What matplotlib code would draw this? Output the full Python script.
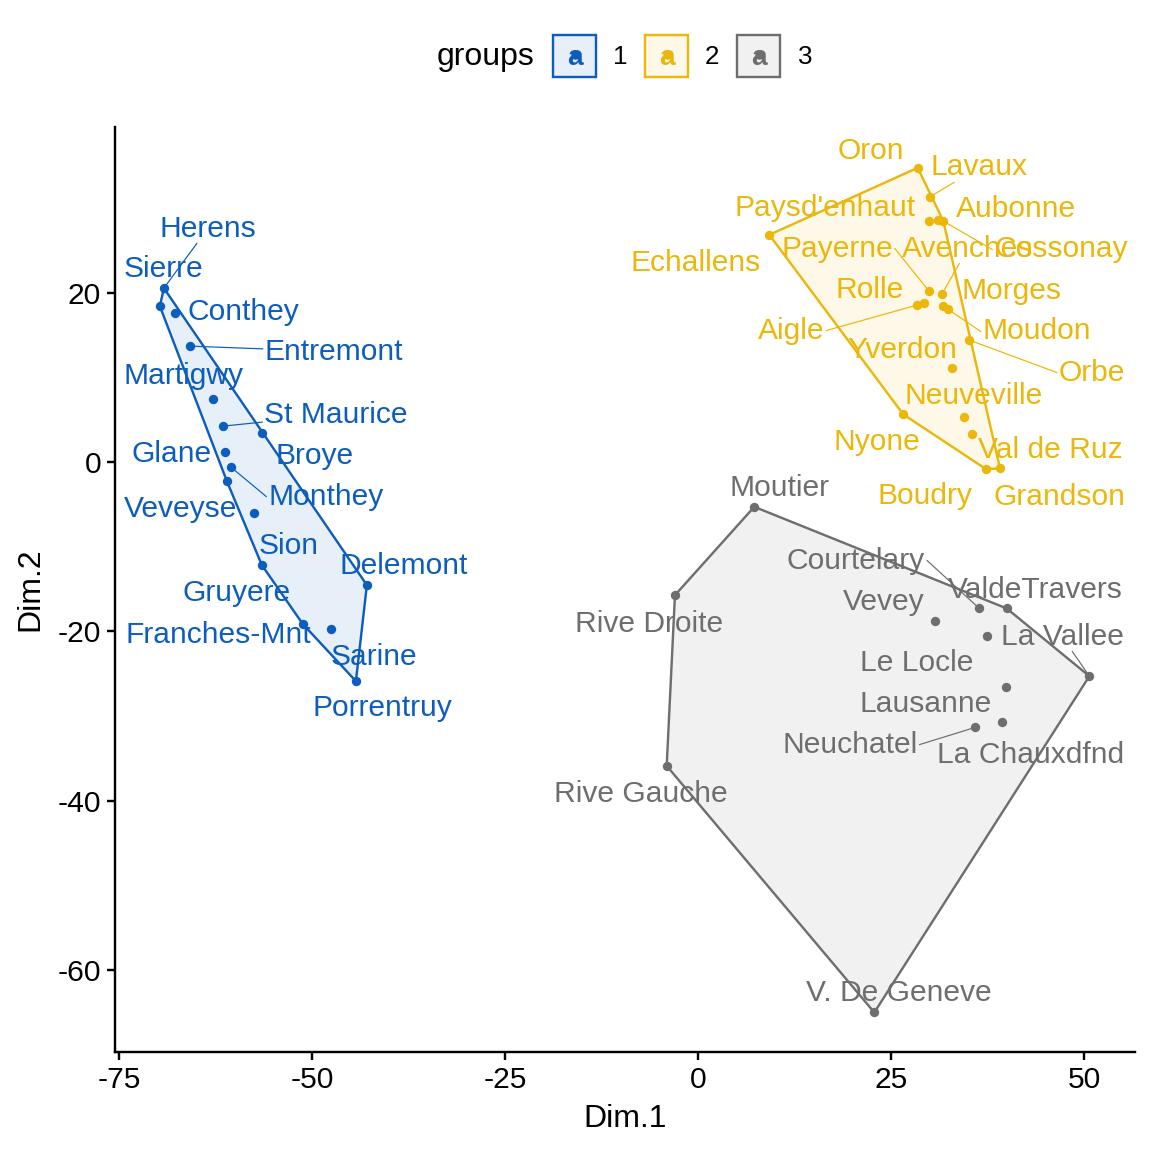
import matplotlib
matplotlib.use("Agg")
import matplotlib.pyplot as plt
from matplotlib.patches import Polygon, Rectangle
from matplotlib.colors import to_rgb
import numpy as np

plt.rcParams["font.family"] = ["Liberation Sans", "DejaVu Sans"]
plt.rcParams["axes.unicode_minus"] = False

# MDS coordinates of the swiss provinces
g1_names = ["Herens", "Sierre", "Conthey", "Entremont", "Martigwy", "St Maurice",
            "Broye", "Glane", "Monthey", "Veveyse", "Sion", "Gruyere", "Delemont",
            "Franches-Mnt", "Sarine", "Porrentruy"]
g1_x = [-69.17, -69.69, -67.75, -65.80, -62.82, -61.53, -56.48, -61.27, -60.49,
        -61.01, -57.51, -56.48, -42.88, -51.17, -47.54, -44.30]
g1_y = [20.56, 18.43, 17.61, 13.71, 7.44, 4.25, 3.43, 1.18, -0.59, -2.25, -6.03,
        -12.17, -14.53, -19.14, -19.73, -25.88]
g1_lx = [-63.47, -69.17, -58.81, -47.15, -66.58, -46.89, -49.61, -68.13, -48.19,
         -66.97, -52.98, -59.72, -38.08, -62.18, -41.97, -40.93]
g1_ly = [27.89, 23.16, 18.08, 13.35, 10.52, 5.91, 1.06, 1.30, -3.78, -5.20, -9.57,
         -15.13, -11.94, -20.09, -22.69, -28.71]

g2_names = ["Oron", "Lavaux", "Paysd'enhaut", "Aubonne", "Cossonay", "Echallens",
            "Payerne", "Avenches", "Aigle", "Rolle", "Morges", "Moudon", "Orbe",
            "Yverdon", "Neuveville", "Val de Ruz", "Nyone", "Boudry", "Grandson"]
g2_x = [28.46, 30.05, 29.96, 31.13, 31.78, 9.24, 29.92, 31.57, 28.33, 29.31, 31.78,
        32.42, 35.14, 32.94, 34.49, 35.45, 26.59, 37.31, 39.12]
g2_y = [34.78, 31.35, 28.51, 28.60, 28.48, 26.86, 20.21, 19.82, 18.55, 18.82, 18.47,
        18.04, 14.42, 11.07, 5.35, 3.31, 5.64, -0.83, -0.74]
g2_lx = [22.41, 36.40, 16.45, 41.19, 47.02, -0.26, 18.01, 34.97, 12.05, 22.28, 40.67,
         43.91, 51.04, 26.42, 35.75, 45.60, 23.19, 29.40, 46.76]
g2_ly = [37.10, 35.10, 30.37, 30.25, 25.41, 23.87, 25.52, 25.52, 15.83, 20.68, 20.56,
         15.72, 10.87, 13.59, 8.15, 1.77, 2.72, -3.66, -3.78]

g3_names = ["Moutier", "Rive Droite", "Rive Gauche", "Courtelary", "ValdeTravers",
            "Vevey", "Le Locle", "La Vallee", "Lausanne", "La Chauxdfnd", "Neuchatel",
            "V. De Geneve"]
g3_x = [7.29, -2.98, -4.05, 36.44, 39.99, 30.70, 37.40, 50.69, 39.86, 39.34, 35.88, 22.84]
g3_y = [-5.28, -15.72, -35.89, -17.29, -17.29, -18.79, -20.53, -25.29, -26.55, -30.76,
        -31.35, -65.03]
g3_lx = [10.62, -6.35, -7.38, 20.47, 43.65, 24.09, 28.37, 47.15, 29.53, 43.13, 19.69, 26.04]
g3_ly = [-2.72, -18.79, -38.88, -11.34, -14.77, -16.19, -23.40, -20.33, -28.24, -34.27,
         -33.09, -62.39]

# labels that ggrepel pulled away far enough to get a segment
segment_labels = ["Herens", "Entremont", "St Maurice", "Monthey", "Lavaux", "Cossonay",
                  "Payerne", "Avenches", "Aigle", "Moudon", "Orbe", "Courtelary",
                  "La Vallee", "Neuchatel"]

group_labels = ["1", "2", "3"]
COLORS = ["#0C5DBE", "#EBB70A", "#6E6E6E"]


def fill_color(c, alpha=0.1):
    r = np.array(to_rgb(c))
    return tuple(1 - alpha * (1 - r))


def convex_hull(xs, ys):
    pts = sorted(zip(xs, ys))

    def cross(o, a, b):
        return (a[0] - o[0]) * (b[1] - o[1]) - (a[1] - o[1]) * (b[0] - o[0])

    lower, upper = [], []
    for p in pts:
        while len(lower) >= 2 and cross(lower[-2], lower[-1], p) <= 0:
            lower.pop()
        lower.append(p)
    for p in reversed(pts):
        while len(upper) >= 2 and cross(upper[-2], upper[-1], p) <= 0:
            upper.pop()
        upper.append(p)
    return lower[:-1] + upper[:-1]


def connection_point(px, py, x0, y0, x1, y1):
    # roughly how ggrepel picks where the segment meets the label box
    left, right = px < x0, px > x1
    below, above = py < y0, py > y1
    cx, cy = (x0 + x1) / 2, (y0 + y1) / 2
    if (left or right) and (below or above):
        gx = x0 - px if left else px - x1
        gy = y0 - py if below else py - y1
        if gx >= gy:
            return (x0 if left else x1), cy
        return cx, (y0 if below else y1)
    dx, dy = px - cx, py - cy
    hw, hh = (x1 - x0) / 2, (y1 - y0) / 2
    k = min(hw / abs(dx) if dx else np.inf, hh / abs(dy) if dy else np.inf)
    return cx + k * dx, cy + k * dy


fig = plt.figure(figsize=(8, 8), dpi=144)
W = H = 1152
ax = fig.add_axes([115 / W, 100 / H, 1020 / W, 925 / H])

groups = [
    (g1_names, g1_x, g1_y, g1_lx, g1_ly),
    (g2_names, g2_x, g2_y, g2_lx, g2_ly),
    (g3_names, g3_x, g3_y, g3_lx, g3_ly),
]

texts = []
for (names, xs, ys, lxs, lys), col in zip(groups, COLORS):
    hull = convex_hull(xs, ys)
    ax.add_patch(Polygon(hull, closed=True, facecolor=fill_color(col),
                         edgecolor=col, linewidth=1.2, zorder=1))
    ax.scatter(xs, ys, s=22, color=col, zorder=3, linewidths=0)
    for name, x, y, lx, ly in zip(names, xs, ys, lxs, lys):
        t = ax.annotate(name, (lx, ly), xytext=(0, -5.2), textcoords="offset points",
                        ha="center", va="baseline", fontsize=15, color=col, zorder=4)
        texts.append((t, x, y, col))

ax.set_xlim(-75.5, 56.6)
ax.set_ylim(-69.7, 39.6)
ax.set_xticks([-75, -50, -25, 0, 25, 50])
ax.set_yticks([-60, -40, -20, 0, 20])
ax.set_xlabel("Dim.1", fontsize=16, labelpad=5)
ax.set_ylabel("Dim.2", fontsize=16, labelpad=6)
ax.tick_params(labelsize=15, length=4, width=1.2, colors="black", pad=3)
for s in ["top", "right"]:
    ax.spines[s].set_visible(False)
for s in ["left", "bottom"]:
    ax.spines[s].set_linewidth(1.2)

# segments from points to the label boxes
fig.canvas.draw()
renderer = fig.canvas.get_renderer()
inv = ax.transData.inverted()
for t, x, y, col in texts:
    if t.get_text() not in segment_labels:
        continue
    bb = t.get_window_extent(renderer)
    px, py = ax.transData.transform((x, y))
    ex, ey = connection_point(px, py, bb.x0 - 2, bb.y0 - 1, bb.x1 + 2, bb.y1 + 1)
    ex, ey = inv.transform((ex, ey))
    ax.plot([x, ex], [y, ey], color=col, linewidth=0.6, zorder=2)

# legend on top, in pixel coordinates
leg = fig.add_axes([0, 1 - 110 / H, 1, 110 / H])
leg.set_xlim(0, W)
leg.set_ylim(110, 0)
leg.axis("off")
leg.text(486, 57, "groups", ha="center", va="center", fontsize=16)
key_x = [553, 645, 737]
lab_x = [620, 712, 805]
for kx, lx, col, lab in zip(key_x, lab_x, COLORS, group_labels):
    leg.add_patch(Rectangle((kx, 35), 43, 42, facecolor=fill_color(col),
                            edgecolor=col, linewidth=1.2))
    leg.text(kx + 21.5, 58, "a", ha="center", va="center", fontsize=14,
             fontweight="bold", color=col)
    leg.scatter([kx + 21.5], [55], s=18, color=col, linewidths=0)
    leg.text(lx, 57, lab, ha="center", va="center", fontsize=13)

fig.savefig("out.png", dpi=144)
